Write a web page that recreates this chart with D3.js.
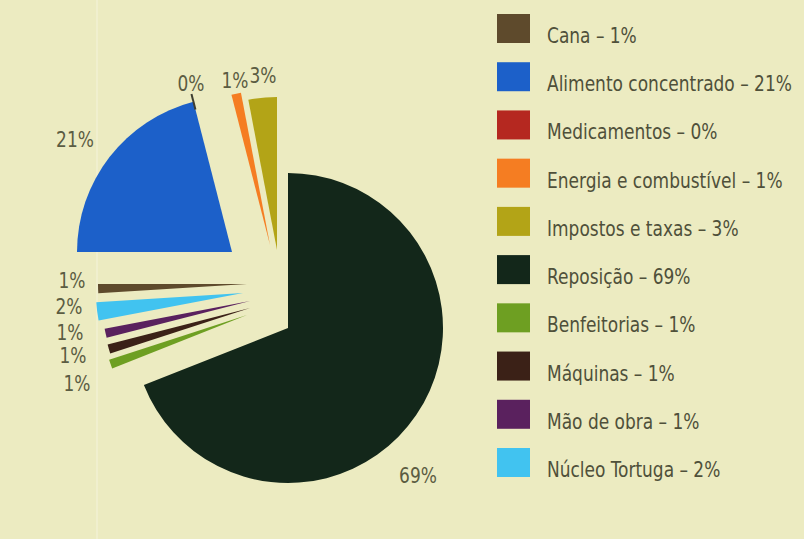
<!DOCTYPE html>
<html>
<head>
<meta charset="utf-8">
<script src="https://cdn.jsdelivr.net/npm/d3@7"></script>
<style>
  body { margin: 0; background: #ecebc1; }
  svg { display: block; }
  text { font-family: "DejaVu Sans Condensed", "DejaVu Sans", sans-serif; font-stretch: condensed; }
</style>
</head>
<body>
<div class="chart"></div>
<script>
// data (clockwise from 12 o'clock)
const categories = ['Reposição', 'Benfeitorias', 'Máquinas', 'Mão de obra', 'Núcleo Tortuga',
    'Cana', 'Alimento concentrado', 'Medicamentos', 'Energia e combustível', 'Impostos e taxas'];
const values = [69, 1, 1, 1, 2, 1, 21, 0, 1, 3];
const valueLabels = ['69%', '1%', '1%', '1%', '2%', '1%', '21%', '0%', '1%', '3%'];

// legend order
const legendOrder = ['Cana', 'Alimento concentrado', 'Medicamentos', 'Energia e combustível',
    'Impostos e taxas', 'Reposição', 'Benfeitorias', 'Máquinas', 'Mão de obra', 'Núcleo Tortuga'];

const colors = {
    'Cana': '#5e4a2c',
    'Alimento concentrado': '#1c60c9',
    'Medicamentos': '#b52820',
    'Energia e combustível': '#f57d22',
    'Impostos e taxas': '#b3a417',
    'Reposição': '#13271a',
    'Benfeitorias': '#6e9f22',
    'Máquinas': '#3b2117',
    'Mão de obra': '#5a215e',
    'Núcleo Tortuga': '#41c3f0'
};

// layout: how far each slice is pulled out, and its radius
const center = { x: 288, y: 328 };
const sliceLayout = {
    'Reposição': { dx: 0, dy: 0, r: 155 },
    'Benfeitorias': { dx: -41, dy: -13, r: 145 },
    'Máquinas': { dx: -38, dy: -20, r: 147 },
    'Mão de obra': { dx: -38, dy: -27, r: 148 },
    'Núcleo Tortuga': { dx: -45, dy: -35, r: 147 },
    'Cana': { dx: -41, dy: -44, r: 149 },
    'Alimento concentrado': { dx: -56, dy: -76, r: 155 },
    'Medicamentos': { dx: -56, dy: -76, r: 155 },
    'Energia e combustível': { dx: -18, dy: -83, r: 155 },
    'Impostos e taxas': { dx: -11, dy: -78, r: 153 }
};
const labelPos = {
    'Reposição': [418, 483],
    'Benfeitorias': [77, 391],
    'Máquinas': [73, 363],
    'Mão de obra': [70, 340],
    'Núcleo Tortuga': [69, 314],
    'Cana': [72, 288],
    'Alimento concentrado': [75, 147],
    'Medicamentos': [191, 91],
    'Energia e combustível': [235, 88],
    'Impostos e taxas': [263, 83]
};
const textSqueeze = 0.86;

const width = 804, height = 539;

const svg = d3.select('.chart')
    .append('svg')
    .attr('width', width)
    .attr('height', height);

svg.append('rect')
    .attr('width', width).attr('height', height)
    .attr('fill', '#ecebc1');

// faint fold line of the scan
svg.append('line')
    .attr('x1', 97).attr('x2', 97).attr('y1', 0).attr('y2', height)
    .attr('stroke', '#f0efce').attr('stroke-width', 2);

const data = categories.map((c, i) => ({ name: c, value: values[i], label: valueLabels[i] }));

const pie = d3.pie()
    .value(d => d.value)
    .sort(null)
    .startAngle(0)
    .endAngle(2 * Math.PI);

const arcs = pie(data);

const shift = d => {
    const l = sliceLayout[d.data.name];
    return `translate(${center.x + l.dx}, ${center.y + l.dy})`;
};

const pieGroup = svg.append('g').attr('class', 'pie');

pieGroup.selectAll('.slice')
    .data(arcs.filter(d => d.data.value > 0))
    .enter()
    .append('path')
    .attr('class', 'slice')
    .attr('transform', shift)
    .attr('d', d => d3.arc().innerRadius(0).outerRadius(sliceLayout[d.data.name].r)(d))
    .style('fill', d => colors[d.data.name]);

// zero-value slice drawn as a small tick
pieGroup.selectAll('.tick-zero')
    .data(arcs.filter(d => d.data.value === 0))
    .enter()
    .append('line')
    .attr('class', 'tick-zero')
    .attr('transform', shift)
    .attr('x1', d => Math.sin(d.startAngle) * (sliceLayout[d.data.name].r - 8))
    .attr('y1', d => -Math.cos(d.startAngle) * (sliceLayout[d.data.name].r - 8))
    .attr('x2', d => Math.sin(d.startAngle) * (sliceLayout[d.data.name].r + 8))
    .attr('y2', d => -Math.cos(d.startAngle) * (sliceLayout[d.data.name].r + 8))
    .style('stroke', '#3d3d30')
    .style('stroke-width', 2);

// value labels
svg.append('g').attr('class', 'labels')
    .selectAll('text')
    .data(arcs)
    .enter()
    .append('text')
    .attr('transform', d => `translate(${labelPos[d.data.name][0]}, ${labelPos[d.data.name][1]}) scale(${textSqueeze}, 1)`)
    .attr('text-anchor', 'middle')
    .style('font-size', '22px')
    .style('fill', '#5b5c42')
    .text(d => d.data.label);

// legend
const legendY = d3.scalePoint()
    .domain(legendOrder)
    .range([43, 477]);

const legend = svg.append('g').attr('class', 'legend')
    .selectAll('g')
    .data(legendOrder)
    .enter()
    .append('g')
    .attr('transform', d => `translate(497, ${legendY(d)})`);

legend.append('rect')
    .attr('x', 0).attr('y', -29)
    .attr('width', 33).attr('height', 29)
    .style('fill', d => colors[d]);

legend.append('text')
    .attr('transform', `translate(50, 0) scale(${textSqueeze}, 1)`)
    .style('font-size', '22px')
    .style('fill', '#4f503a')
    .text(d => `${d} – ${valueLabels[categories.indexOf(d)]}`);
</script>
</body>
</html>
